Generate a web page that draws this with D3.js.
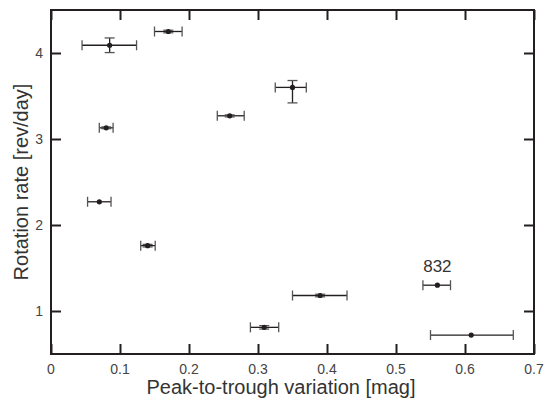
<!DOCTYPE html>
<html>
<head>
<meta charset="utf-8">
<script src="https://cdn.jsdelivr.net/npm/d3@7"></script>
<style>
  body { margin: 0; background: #fff; }
  svg { display: block; font-family: Arial, "Liberation Sans", sans-serif; }
</style>
</head>
<body>
<div class="chart"></div>
<script>
// data
const ids  = ["a", "b", "c", "d", "e", "f", "g", "h", "i", "832", "k"];
const xs   = [0.085, 0.170, 0.080, 0.259, 0.350, 0.070, 0.140, 0.309, 0.390, 0.560, 0.609];
const ys   = [4.09, 4.25, 3.13, 3.27, 3.60, 2.27, 1.76, 0.81, 1.18, 1.30, 0.72];
const xLo  = [0.045, 0.150, 0.070, 0.241, 0.325, 0.053, 0.130, 0.289, 0.350, 0.539, 0.550];
const xHi  = [0.124, 0.190, 0.090, 0.280, 0.370, 0.087, 0.151, 0.330, 0.429, 0.579, 0.670];
const yLo  = [4.005, 4.235, 3.12, 3.257, 3.42, 2.27, 1.745, 0.79, 1.165, 1.30, 0.72];
const yHi  = [4.175, 4.265, 3.14, 3.28, 3.68, 2.27, 1.775, 0.83, 1.195, 1.30, 0.72];
const xTicks = [0, 0.1, 0.2, 0.3, 0.4, 0.5, 0.6, 0.7];
const yTicks = [1, 2, 3, 4];
const labelled = "832";

const widthOfSvg = 548, heightOfSvg = 402;
const plotLeft = 51, plotRight = 534, plotTop = 10, plotBottom = 354;
const ink = "#231f20";

const x = d3.scaleLinear().domain([0, 0.7]).range([plotLeft, plotRight]);
const y = d3.scaleLinear().domain([0.5, 4.5]).range([plotBottom, plotTop]);

const svg = d3.select(".chart").append("svg")
  .attr("width", widthOfSvg)
  .attr("height", heightOfSvg);

const points = xs.map((d, i) => ({ id: ids[i], x: d, y: ys[i], x0: xLo[i], x1: xHi[i], y0: yLo[i], y1: yHi[i] }));

// axes, ticks pointing inward on all four sides
const tick = 10;
svg.append("g").attr("transform", `translate(0,${plotBottom})`)
  .call(d3.axisTop(x).tickValues(xTicks).tickSize(tick).tickFormat(""));
svg.append("g").attr("transform", `translate(0,${plotTop})`)
  .call(d3.axisBottom(x).tickValues(xTicks).tickSize(tick).tickFormat(""));
svg.append("g").attr("transform", `translate(${plotLeft},0)`)
  .call(d3.axisRight(y).tickValues(yTicks).tickSize(tick).tickFormat(""));
svg.append("g").attr("transform", `translate(${plotRight},0)`)
  .call(d3.axisLeft(y).tickValues(yTicks).tickSize(tick).tickFormat(""));
svg.selectAll(".domain").remove();
svg.selectAll(".tick line").attr("stroke", ink).attr("stroke-width", 2);

svg.append("rect")
  .attr("x", plotLeft).attr("y", plotTop)
  .attr("width", plotRight - plotLeft).attr("height", plotBottom - plotTop)
  .attr("fill", "none").attr("stroke", ink).attr("stroke-width", 2);

// tick labels
svg.append("g").selectAll("text")
  .data(xTicks).enter().append("text")
  .attr("x", d => x(d)).attr("y", plotBottom + 20)
  .attr("text-anchor", "middle")
  .attr("font-size", 14).attr("fill", "#444")
  .text(d => d);

svg.append("g").selectAll("text")
  .data(yTicks).enter().append("text")
  .attr("x", plotLeft - 8).attr("y", d => y(d) + 5)
  .attr("text-anchor", "end")
  .attr("font-size", 14).attr("fill", "#444")
  .text(d => d);

// axis titles
svg.append("text")
  .attr("x", 281).attr("y", 394)
  .attr("text-anchor", "middle")
  .attr("font-size", 20).attr("fill", "#333")
  .text("Peak-to-trough variation [mag]");

svg.append("text")
  .attr("transform", `translate(28,${(plotTop + plotBottom) / 2}) rotate(-90)`)
  .attr("text-anchor", "middle")
  .attr("font-size", 20).attr("fill", "#333")
  .text("Rotation rate [rev/day]");

// error bars
const cap = 5;
const bars = svg.append("g").attr("stroke", ink).attr("stroke-width", 1.3);

bars.selectAll(".xerr").data(points).enter().append("line")
  .attr("x1", d => x(d.x0)).attr("x2", d => x(d.x1))
  .attr("y1", d => y(d.y)).attr("y2", d => y(d.y));
bars.selectAll(".xcap").data(points.flatMap(d => [{ v: d.x0, y: d.y }, { v: d.x1, y: d.y }]))
  .enter().append("line")
  .attr("stroke", "#555")
  .attr("x1", d => x(d.v)).attr("x2", d => x(d.v))
  .attr("y1", d => y(d.y) - cap).attr("y2", d => y(d.y) + cap);

const withY = points.filter(d => d.y1 > d.y0);
bars.selectAll(".yerr").data(withY).enter().append("line")
  .attr("x1", d => x(d.x)).attr("x2", d => x(d.x))
  .attr("y1", d => y(d.y0)).attr("y2", d => y(d.y1));
bars.selectAll(".ycap").data(withY.flatMap(d => [{ v: d.y0, x: d.x }, { v: d.y1, x: d.x }]))
  .enter().append("line")
  .attr("stroke", "#555")
  .attr("x1", d => x(d.x) - cap).attr("x2", d => x(d.x) + cap)
  .attr("y1", d => y(d.v)).attr("y2", d => y(d.v));

// points
svg.append("g").selectAll("circle")
  .data(points).enter().append("circle")
  .attr("cx", d => x(d.x)).attr("cy", d => y(d.y))
  .attr("r", 2.6).attr("fill", ink);

// annotation
svg.append("g").selectAll("text")
  .data(points.filter(d => d.id === labelled)).enter().append("text")
  .attr("x", d => x(d.x)).attr("y", d => y(d.y) - 13)
  .attr("text-anchor", "middle")
  .attr("font-size", 17).attr("fill", "#333")
  .text(d => d.id);
</script>
</body>
</html>
